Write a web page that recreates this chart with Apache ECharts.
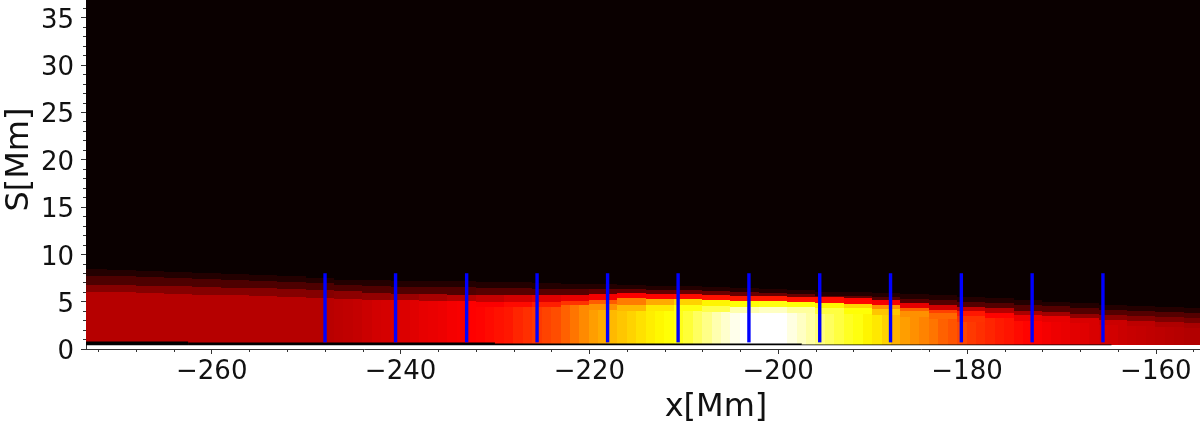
<!DOCTYPE html>
<html><head><meta charset="utf-8">
<style>html,body{margin:0;padding:0;background:#fff}#c{width:1200px;height:424px}</style>
<script src="https://cdn.jsdelivr.net/npm/echarts@6/dist/echarts.min.js"></script>
</head><body><div id="c"></div>
<script>
const xMajorTicks=[-260,-240,-220,-200,-180,-160];
const xMinorTicks=[-272,-268,-264,-256,-252,-248,-244,-236,-232,-228,-224,-216,-212,-208,-204,-196,-192,-188,-184,-176,-172,-168,-164,-156];
const yMajorTicks=[0,5,10,15,20,25,30,35];
const yMinorTicks=[1,2,3,4,6,7,8,9,11,12,13,14,16,17,18,19,21,22,23,24,26,27,28,29,31,32,33,34,36];
const probeX=[-248,-240.53,-233,-225.54,-218.07,-210.6,-203.1,-195.6,-188.1,-180.6,-173.1,-165.6];
const probeS=[0.7,8.0];
const floorEdgesX=[-273.32,-262.5,-230,-197.5,-164.7];
const floorTopS=[0.8,0.68,0.58,0.48];
const gridBottomS=0.4;
const background=0.014;
const columnStart=-274;
const coreHeat=[.26,.26,.26,.26,.26,.26,.26,.26,.26,.26,.26,.26,.26,.26,.26,.26,.26,.26,.26,.26,.26,.26,.26,.26,
.26,.26,.265,.27,.275,.28,.29,.30,.305,.31,.315,.32,.33,.335,.34,.35,.355,.365,.37,.38,.39,.40,.42,.435,.45,.465,.48,.51,.54,.57,.60,.62,.64,.66,.68,.70,.72,.735,.75,.77,.80,.84,.88,.92,.95,.98,1,1,1,1,1,.97,.94,.91,.87,.84,.81,.78,.76,.73,.71,.68,.63,.60,.58,.56,.54,.51,.49,.47,.45,.435,.42,.405,.395,.38,.37,.36,.35,.34,.335,.325,.32,.31,.305,.30,.29,.285,.28,.275,.27,.265,.26,.255,.255];
const bandStep=3;
const topA=[8.45,8.34,8.24,8.13,8.03,7.92,7.81,7.71,7.50,7.29,7.29,7.18,7.18,7.18,7.07,7.07,6.97,6.86,6.86,6.76,6.65,6.65,6.55,6.44,6.34,6.23,6.02,6.02,5.91,5.81,5.70,5.49,5.39,5.17,4.96,4.86,4.65,4.54,4.43,4.33];
const topB=[7.71,7.71,7.60,7.50,7.39,7.29,7.18,7.07,6.97,6.76,6.65,6.55,6.55,6.55,6.44,6.44,6.34,6.34,6.34,6.34,6.23,6.23,6.12,6.02,5.91,5.81,5.60,5.60,5.49,5.28,5.17,4.96,4.86,4.65,4.54,4.33,4.12,4.01,3.91,3.80];
const topC=[6.76,6.76,6.65,6.65,6.55,6.44,6.44,6.34,6.23,6.12,5.91,5.81,5.81,5.70,5.70,5.70,5.70,5.70,5.81,5.91,5.81,5.81,5.70,5.60,5.60,5.49,5.49,5.39,5.17,4.86,4.65,4.43,4.33,4.01,3.91,3.70,3.59,3.48,3.38,3.27];
const topD=[6.02,6.02,5.91,5.81,5.70,5.70,5.60,5.49,5.39,5.28,5.17,5.17,5.07,5.07,4.96,4.96,4.96,5.07,5.17,5.39,5.28,5.28,5.17,5.07,5.07,4.96,4.86,4.75,4.65,4.33,4.12,4.01,3.80,3.59,3.48,3.27,3.06,2.96,2.85,2.75];
const topE=[5.4,5.4,5.3,5.2,5.1,5.1,5.0,4.9,4.8,4.7,4.6,4.6,4.5,4.5,4.4,4.4,4.4,4.65,4.75,4.65,4.65,4.65,4.54,4.43,4.43,4.43,4.33,4.33,4.22,4.01,3.80,3.5,3.3,3.0,2.9,2.7,2.5,2.4,2.3,2.2];
const paleDepth=0.63;
const heatA=.05;
const heatB=[.11,.11,.11,.11,.11,.11,.11,.11,.11,.11,.115,.115,.115,.115,.125,.125,.125,.125,.14,.14,.145,.15,.15,.15,.15,.15,.145,.14,.12,.12,.12,.12,.12,.12,.12,.12,.12,.12,.12,.12];
const heatC=[.19,.19,.19,.19,.19,.19,.19,.19,.19,.20,.21,.22,.24,.26,.28,.30,.32,.335,.35,.36,.37,.38,.39,.40,.40,.39,.385,.37,.35,.33,.30,.28,.26,.24,.23,.21,.20,.19,.18,.17];
const heatD=[null,null,null,null,null,null,null,null,null,null,null,null,null,null,.36,.38,.41,.44,.50,.55,.62,.68,.73,.75,.76,.75,.73,.68,.58,.51,.46,.40,.37,.34,.33,.31,.29,.27,.25,.24];
const heatE=[null,null,null,null,null,null,null,null,null,null,null,null,null,null,null,null,null,null,.58,.64,.71,.76,.82,.92,.94,.90,.81,.75,.66,.58,.52,.44,null,null,null,null,null,null,null,null];

const xMin=-273.32,xMax=-155.32,yMin=0,yMax=36.85;
function hot(v){
  const c=t=>Math.round(255*Math.max(0,Math.min(1,t)));
  return 'rgb('+c((v+.0)/.365)+','+c((v-.365)/.38)+','+c((v-.745)/.255)+')';
}
const cells=[];
coreHeat.forEach((core,i)=>{
  const x0=columnStart+i,x1=x0+1;
  const j=Math.min(topA.length-1,Math.floor(i/bandStep));
  cells.push([x0,x1,topA[j],yMax,background]);
  cells.push([x0,x1,topB[j],topA[j],heatA]);
  cells.push([x0,x1,topC[j],topB[j],heatB[j]]);
  cells.push([x0,x1,topD[j],topC[j],heatC[j]]);
  cells.push([x0,x1,topE[j],topD[j],heatD[j]==null?core:heatD[j]]);
  cells.push([x0,x1,topE[j]-paleDepth,topE[j],heatE[j]==null?core:heatE[j]]);
  cells.push([x0,x1,gridBottomS,topE[j]-paleDepth,core]);
});
function renderCell(p,api){
  const a=api.coord([api.value(0),api.value(3)]);
  const b=api.coord([api.value(1),api.value(2)]);
  const l=Math.floor(a[0]),t=Math.round(a[1]);
  return {type:'rect',shape:{x:l,y:t,width:Math.ceil(b[0])-l+1,height:Math.round(b[1])-t},
    style:{fill:hot(api.value(4))},silent:true};
}
const floorData=floorTopS.map((s,i)=>[floorEdgesX[i],floorEdgesX[i+1],gridBottomS,s]);
function renderFloor(p,api){
  const a=api.coord([api.value(0),api.value(3)]);
  const b=api.coord([api.value(1),api.value(2)]);
  return {type:'rect',shape:{x:a[0],y:a[1],width:b[0]-a[0],height:b[1]-a[1]},style:{fill:'#000'},silent:true};
}
function renderProbe(p,api){
  const a=api.coord([api.value(0),api.value(2)]);
  const b=api.coord([api.value(0),api.value(1)]);
  return {type:'line',shape:{x1:a[0],y1:a[1],x2:b[0],y2:b[1]},style:{stroke:'#0000ff',lineWidth:3.4},silent:true};
}
const txt='#111', ax='#333';
const fmt=v=>String(v).replace('-','\u2212');
const chart=echarts.init(document.getElementById('c'),null,{renderer:'canvas'});
chart.setOption({
  animation:false,backgroundColor:'#fff',
  textStyle:{fontFamily:'DejaVu Sans'},
  grid:{left:86,right:0,top:0,bottom:75,containLabel:false,outerBoundsMode:'none'},
  xAxis:[
   {type:'value',min:xMin,max:xMax,position:'bottom',splitLine:{show:false},
    name:'x[Mm]',nameLocation:'middle',nameGap:43,nameMoveOverlap:false,
    nameTextStyle:{fontFamily:'DejaVu Sans',fontSize:32,color:txt,padding:[0,0,0,146]},
    axisLine:{lineStyle:{color:ax,width:1}},
    axisTick:{customValues:xMajorTicks,length:5,lineStyle:{color:ax,width:1}},
    axisLabel:{customValues:xMajorTicks,formatter:fmt,fontFamily:'DejaVu Sans',fontSize:26,color:txt,margin:10}},
   {type:'value',min:xMin,max:xMax,position:'bottom',splitLine:{show:false},
    axisLine:{show:false},axisLabel:{show:false},
    axisTick:{customValues:xMinorTicks,length:3,lineStyle:{color:ax,width:1}}}
  ],
  yAxis:[
   {type:'value',min:yMin,max:yMax,position:'left',splitLine:{show:false},
    name:'S[Mm]',nameLocation:'middle',nameGap:50,nameMoveOverlap:false,
    nameTextStyle:{fontFamily:'DejaVu Sans',fontSize:32,color:txt,padding:[0,0,0,30]},
    axisLine:{lineStyle:{color:ax,width:1}},
    axisTick:{customValues:yMajorTicks,length:5,lineStyle:{color:ax,width:1}},
    axisLabel:{customValues:yMajorTicks,fontFamily:'DejaVu Sans',fontSize:26,color:txt,margin:12,verticalAlign:'top',lineHeight:7}},
   {type:'value',min:yMin,max:yMax,position:'left',splitLine:{show:false},
    axisLine:{show:false},axisLabel:{show:false},
    axisTick:{customValues:yMinorTicks,length:3,lineStyle:{color:ax,width:1}}}
  ],
  series:[
   {type:'custom',name:'heat',clip:true,renderItem:renderCell,data:cells,encode:{x:[0,1],y:[2,3]},z:1},
   {type:'custom',name:'floor',clip:true,renderItem:renderFloor,data:floorData,encode:{x:[0,1],y:[2,3]},z:2},
   {type:'custom',name:'probes',clip:true,renderItem:renderProbe,data:probeX.map(x=>[x,probeS[0],probeS[1]]),encode:{x:0,y:[1,2]},z:3}
  ]
});
</script></body></html>
